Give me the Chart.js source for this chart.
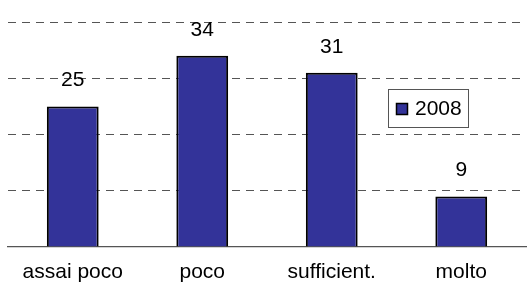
<!DOCTYPE html>
<html>
<head>
<meta charset="utf-8">
<script src="https://cdn.jsdelivr.net/npm/chart.js@4/dist/chart.umd.min.js"></script>
<style>
html,body{margin:0;padding:0;background:#fff;}
#wrap{width:527px;height:284px;}
</style>
</head>
<body>
<div id="wrap"><canvas id="c" width="527" height="284"></canvas></div>
<script>
const categories = ['assai poco', 'poco', 'sufficient.', 'molto'];
const seriesLabel = '2008';
const values2008 = [25, 34, 31, 9];
const yTicks = [0, 10, 20, 30, 40];

const FONT = "'Liberation Sans', Arial, sans-serif";

const valueLabels = {
  id: 'valueLabels',
  afterDatasetsDraw(chart) {
    const ctx = chart.ctx;
    const meta = chart.getDatasetMeta(0);
    const data = chart.data.datasets[0].data;
    ctx.save();
    ctx.font = '21px ' + FONT;
    ctx.fillStyle = '#000';
    ctx.textAlign = 'center';
    ctx.textBaseline = 'alphabetic';
    meta.data.forEach((bar, i) => {
      ctx.fillText(String(data[i]), bar.x, bar.y - 20);
    });
    ctx.restore();
  }
};

const boxLegend = {
  id: 'boxLegend',
  afterDraw(chart) {
    const ctx = chart.ctx;
    const ds = chart.data.datasets[0];
    ctx.save();
    ctx.fillStyle = '#fff';
    ctx.fillRect(388, 89, 81, 39);
    ctx.strokeStyle = '#555';
    ctx.lineWidth = 1;
    ctx.strokeRect(388.5, 89.5, 80, 38);
    ctx.fillStyle = ds.backgroundColor;
    ctx.fillRect(396, 103, 12, 12);
    ctx.strokeStyle = '#000';
    ctx.lineWidth = 1.5;
    ctx.strokeRect(396.5, 103.5, 11, 11);
    ctx.fillStyle = '#000';
    ctx.font = '21px ' + FONT;
    ctx.textAlign = 'left';
    ctx.textBaseline = 'middle';
    ctx.fillText(ds.label, 415, 109.5);
    ctx.restore();
  }
};

new Chart(document.getElementById('c'), {
  type: 'bar',
  data: {
    labels: categories,
    datasets: [{
      label: seriesLabel,
      data: values2008,
      backgroundColor: '#333399',
      borderColor: '#000',
      borderWidth: 2,
      barPercentage: 0.4,
      categoryPercentage: 1.0
    }]
  },
  options: {
    responsive: false,
    animation: false,
    devicePixelRatio: 1,
    layout: { padding: { left: 8, right: 1, top: 22, bottom: 0 } },
    plugins: { legend: { display: false }, tooltip: { enabled: false } },
    scales: {
      x: {
        grid: { display: false, drawTicks: false },
        border: { display: true, color: '#555', width: 1.2 },
        ticks: { color: '#000', font: { family: FONT, size: 21 }, padding: 13, maxRotation: 0 },
        afterFit(scale) { scale.height = 37; }
      },
      y: {
        min: 0, max: 40,
        afterBuildTicks(scale) { scale.ticks = yTicks.map(v => ({ value: v })); },
        grid: {
          drawTicks: false,
          color: (c) => c.tick && c.tick.value === 0 ? 'rgba(0,0,0,0)' : '#555',
          lineWidth: 1
        },
        border: { display: false, dash: [8, 6] },
        ticks: { display: false }
      }
    }
  },
  plugins: [valueLabels, boxLegend]
});
</script>
</body>
</html>
